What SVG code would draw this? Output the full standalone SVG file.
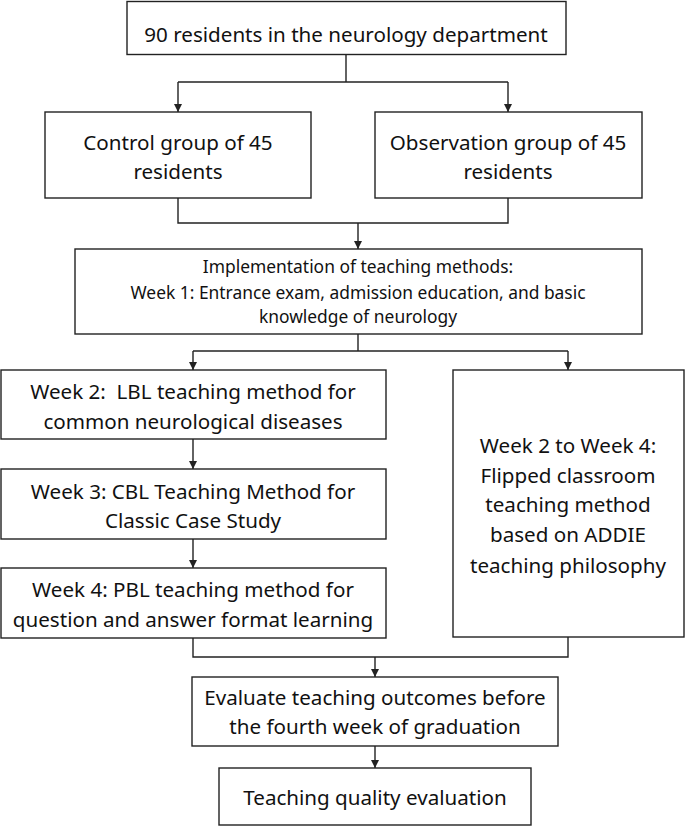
<svg xmlns="http://www.w3.org/2000/svg" width="685" height="826" viewBox="0 0 685 826">
<style>
.box{fill:#fff;stroke:#222;stroke-width:1.4}
.t{font-family:"Noto Sans","Open Sans",sans-serif;font-size:20.6px;fill:#111;text-anchor:middle}
.s{font-size:17.4px}
.c{fill:none;stroke:#222;stroke-width:1.4}
</style>
<defs>
<marker id="ar" viewBox="0 0 10 10" refX="10" refY="5" markerWidth="8" markerHeight="8" markerUnits="userSpaceOnUse" orient="auto">
<path d="M0,0 L10,5 L0,10 z" fill="#222"/>
</marker>
</defs>
<rect width="685" height="826" fill="#fff"/>
<g id="connectors">
<path class="c" d="M346,54 V82"/>
<path class="c" d="M178,82 H508"/>
<path class="c" d="M178,82 V112" marker-end="url(#ar)"/>
<path class="c" d="M508,82 V112" marker-end="url(#ar)"/>
<path class="c" d="M178,198 V223 H508 V198"/>
<path class="c" d="M358,223 V249" marker-end="url(#ar)"/>
<path class="c" d="M358,334 V351"/>
<path class="c" d="M193,351 H568"/>
<path class="c" d="M193,351 V370" marker-end="url(#ar)"/>
<path class="c" d="M568,351 V370" marker-end="url(#ar)"/>
<path class="c" d="M193,439 V469" marker-end="url(#ar)"/>
<path class="c" d="M193,539 V568" marker-end="url(#ar)"/>
<path class="c" d="M193,638 V657 H568 V637"/>
<path class="c" d="M375,657 V677" marker-end="url(#ar)"/>
<path class="c" d="M375,746 V768" marker-end="url(#ar)"/>
</g>
<g id="n1"><rect class="box" x="127" y="1.5" width="439" height="53"/><text class="t" x="346" y="42">90 residents in the neurology department</text></g>
<g id="n2"><rect class="box" x="45" y="112" width="266" height="86"/><text class="t" x="178" y="150">Control group of 45</text><text class="t" x="178" y="179">residents</text></g>
<g id="n3"><rect class="box" x="375" y="112" width="267" height="86"/><text class="t" x="508" y="150">Observation group of 45</text><text class="t" x="508" y="179">residents</text></g>
<g id="n4"><rect class="box" x="75" y="249" width="567" height="85"/><text class="t s" x="358" y="273">Implementation of teaching methods:</text><text class="t s" x="358" y="299">Week 1: Entrance exam, admission education, and basic</text><text class="t s" x="358" y="323">knowledge of neurology</text></g>
<g id="n5"><rect class="box" x="1" y="370" width="385" height="69"/><text class="t" x="193" y="399">Week 2:&#160; LBL teaching method for</text><text class="t" x="193" y="429">common neurological diseases</text></g>
<g id="n6"><rect class="box" x="1" y="469" width="385" height="70"/><text class="t" x="193" y="499">Week 3: CBL Teaching Method for</text><text class="t" x="193" y="528">Classic Case Study</text></g>
<g id="n7"><rect class="box" x="1" y="568" width="385" height="70"/><text class="t" x="193" y="597">Week 4: PBL teaching method for</text><text class="t" x="193" y="627">question and answer format learning</text></g>
<g id="n8"><rect class="box" x="453" y="370" width="231" height="267"/><text class="t" x="568" y="453">Week 2 to Week 4:</text><text class="t" x="568" y="483">Flipped classroom</text><text class="t" x="568" y="512">teaching method</text><text class="t" x="568" y="542">based on ADDIE</text><text class="t" x="568" y="573">teaching philosophy</text></g>
<g id="n9"><rect class="box" x="192" y="677" width="366" height="69"/><text class="t" x="375" y="705">Evaluate teaching outcomes before</text><text class="t" x="375" y="734">the fourth week of graduation</text></g>
<g id="n10"><rect class="box" x="219" y="768" width="312" height="57"/><text class="t" x="375" y="805">Teaching quality evaluation</text></g>
</svg>
